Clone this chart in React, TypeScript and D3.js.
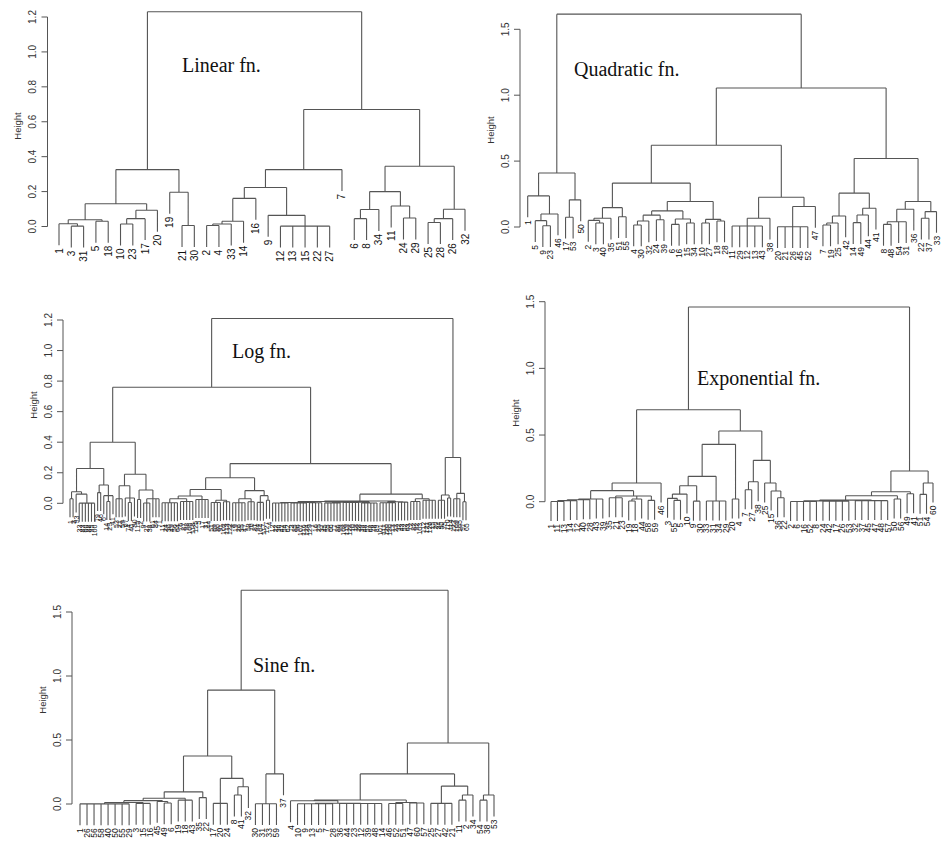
import React from "react";
import * as d3 from "d3";

// a node is [height, ...children]; a child is a leaf index (into the leaf order) or another node
type Node = (number | Node)[];

// ---- Linear fn. ----
const linearLeaves = [1, 3, 31, 5, 18, 10, 23, 17, 20, 19, 21, 30, 2, 4, 33, 14, 16, 9, 12, 13, 15, 22, 27, 7, 6, 8, 34, 11, 24, 29, 25, 28, 26, 32];
const linearTree: Node = [1.23,
  [0.326,
    [0.13, [0.039, [0.016, 0, [0.002, 1, 2]], [0.03, 3, 4]], [0.093, [0.045, [0.014, 5, 6], 7], 8]],
    [0.196, 9, [0.006, 10, 11]]],
  [0.67,
    [0.326, [0.223, [0.161, [0.03, [0.014, [0.006, 12, 13], 14], 15], 16], [0.064, 17, [0.002, 18, 19, 20, 21, 22]]], 23],
    [0.345, [0.2, [0.097, [0.045, 24, 25], 26], [0.117, 27, [0.049, 28, 29]]], [0.099, [0.045, [0.023, 30, 31], 32], 33]]]];
const linearTicks = [0, 0.2, 0.4, 0.6, 0.8, 1.0, 1.2];

// ---- Quadratic fn. ----
const quadLeaves = [1, 5, 9, 23, 46, 17, 53, 50, 2, 3, 40, 35, 51, 55, 4, 30, 32, 24, 39, 6, 16, 15, 34, 10, 27, 18, 28, 11, 29, 12, 13, 43, 38, 20, 21, 26, 45, 52, 47, 7, 19, 25, 42, 14, 49, 44, 41, 8, 48, 54, 31, 36, 22, 37, 33];
const quadTree: Node = [1.615,
  [0.41, [0.236, 0, [0.099, [0.048, 1, [0.01, 2, 3]], 4]], [0.206, [0.074, 5, 6], 7]],
  [1.055,
    [0.62,
      [0.333,
        [0.147, [0.066, [0.05, 8, [0.03, 9, 10]], 11], [0.078, 12, 13]],
        [0.193,
          [0.122, [0.09, [0.045, [0.015, 14, 15], 16], [0.055, 17, 18]], [0.061, [0.02, 19, 20], [0.03, 21, 22]]],
          [0.058, [0.03, 23, 24], [0.045, 25, 26]]]],
      [0.226, [0.066, [0.008, 27, 28, 29, 30, 31], 32], [0.155, [0.002, 33, 34, 35, 36, 37], 38]]],
    [0.52,
      [0.257, [0.084, [0.03, [0.015, 39, 40], 41], 42], [0.142, [0.091, [0.033, 43, 44], 45], 46]],
      [0.193, [0.135, [0.04, [0.02, 47, 48], 49, 50], 51], [0.117, [0.066, 52, 53], 54]]]]];
const quadTicks = [0, 0.5, 1.0, 1.5];

// ---- Log fn. ----
const logLeaves = [1, 3, 93, 33, 83, 60, 88, 95, 100, 79, 46, 6, 14, 29, 41, 53, 21, 59, 67, 74,
  40, 90, 115, 2, 9, 27, 38, 61, 84, 71, 11, 24, 36, 49, 56, 64, 76, 87, 98, 106,
  118, 125, 5, 17, 31, 44, 51, 69, 80, 91, 102, 113, 122, 8, 19, 26, 35, 47, 58, 70,
  81, 94, 104, 117, 127, 4, 12, 22, 30, 42, 54, 62, 73, 85, 96, 107, 116, 124, 129, 7,
  16, 25, 37, 45, 55, 66, 77, 86, 99, 108, 119, 128, 10, 18, 28, 39, 48, 57, 68, 78,
  89, 101, 111, 120, 130, 13, 23, 32, 43, 52, 63, 72, 82, 92, 103, 112, 121, 126, 15, 20,
  34, 50, 75, 110, 114, 123, 109, 105, 97, 65];
const logTree: Node = [1.21,
  [0.76,
    [0.4,
      [0.228,
        [0.076, [0.03, 0, 1], [0.06, 2, [0.001, 3, 4, 5, 6, 7, 8]]],
        [0.12, [0.07, 9, 10], [0.05, 11, [0.012, 12, 13], 14]]],
      [0.19,
        [0.115, [0.03, 15, 16, 17], [0.035, 18, [0.005, 19, 20], 21]],
        [0.087, [0.025, 22, 23], [0.03, [0.002, 24, 25, 26], 27, 28, 29]]]],
    [0.26,
      [0.167,
        [0.09,
          [0.048, [0.03, [0.004, 30, 31, 32, 33, 34, 35], [0.012, 36, 37, 38, 39, 40]], [0.025, 41, 42, 43, 44, 45]],
          [0.02, [0.005, 46, 47, 48, 49], [0.01, 50, 51, 52]]],
        [0.083,
          [0.03, [0.004, 53, 54, 55, 56, 57], [0.01, 58, 59, 60]],
          [0.05, [0.006, 61, 62, 63], [0.02, 64, 65]]]],
      [0.06,
        [0.015,
          [0.012,
            [0.005, [0.002, 66, 67, 68, 69, 70, 71], [0.003, 72, 73, 74, 75, 76, 77], [0.004, 78, 79, 80, 81, 82]],
            [0.008, [0.003, 83, 84, 85, 86, 87, 88], [0.005, 89, 90, 91, 92, 93, 94], [0.002, 95, 96, 97, 98, 99, 100]]],
          [0.01, [0.004, 101, 102, 103, 104, 105, 106], [0.008, 107, 108, 109, 110]]],
        [0.03, [0.012, 111, 112, 113, 114], [0.02, 115, 116, 117, 118, 119]]]]],
  [0.3,
    [0.054, [0.02, 120, 121, 122], [0.035, 123, 124]],
    [0.065, [0.03, 125, 126, 127], [0.01, 128, 129]]]];
const logTicks = [0, 0.2, 0.4, 0.6, 0.8, 1.0, 1.2];

// ---- Exponential fn. ----
const expLeaves = [1, 11, 13, 14, 12, 40, 28, 43, 39, 35, 21, 23, 19, 18, 44, 58, 59, 46,
  3, 55, 5, 10, 9, 30, 33, 31, 34, 29, 20, 4, 7, 27, 38, 25, 15, 36, 22,
  2, 6, 16, 52, 8, 24, 42, 17, 26, 53, 32, 37, 45, 47, 48, 57, 50, 56, 49, 41, 51, 54, 60];
const expTree: Node = [1.46,
  [0.69,
    [0.14,
      [0.083,
        [0.02, [0.015, [0.008, [0.002, 0, 1, 2], 3, 4], 5, 6], 7, 8],
        [0.043, [0.03, 9, 10, 11], [0.02, [0.005, 12, 13], 14], [0.01, 15, 16]]],
      17],
    [0.53,
      [0.43,
        [0.19,
          [0.12, [0.057, [0.025, 18, [0.01, 19, 20]], 21], [0.004, 22, 23]],
          [0.005, 24, 25, 26, 27]],
        [0.02, 28, 29]],
      [0.31,
        [0.15, [0.09, 30, 31], 32],
        [0.14, 33, [0.08, 34, [0.03, 35, 36]]]]]],
  [0.23,
    [0.075,
      [0.045,
        [0.012, [0.006, [0.002, 37, 38, 39, 40, 41], [0.004, 42, 43, 44, 45, 46]], [0.008, 47, 48, 49, 50, 51, 52]],
        [0.02, 53, 54]],
      [0.06, 55, 56]],
    [0.14, [0.055, 57, 58], 59]]];
const expTicks = [0, 0.5, 1.0, 1.5];

// ---- Sine fn. ----
const sineLeaves = [1, 26, 56, 58, 40, 50, 55, 29, 3, 15, 16, 45, 49, 6, 19, 18, 43, 35, 22,
  17, 20, 24, 8, 41, 32, 30, 31, 33, 59, 37, 4, 10, 9, 13, 5, 7, 28, 36, 44, 23, 12, 39, 48, 14,
  46, 52, 51, 47, 60, 57, 25, 27, 42, 21, 11, 2, 34, 54, 38, 53];
const sineTree: Node = [1.67,
  [0.89,
    [0.375,
      [0.095,
        [0.045,
          [0.026, [0.012, [0.001, 0, 1, 2, 3, 4, 5, 6, 7], [0.005, 8, 9, 10]], [0.02, 11, [0.008, 12, 13]]],
          [0.03, 14, 15, 16]],
        [0.05, 17, 18]],
      [0.2, [0.005, 19, 20, 21], [0.135, [0.07, 22, 23], 24]]],
    [0.235, [0.002, 25, 26, 27, 28], 29]],
  [0.476,
    [0.235,
      [0.031,
        [0.025, 30, [0.006, [0.002, 31, 32, 33, 34, 35, 36], [0.004, 37, 38, 39, 40, 41, 42, 43]]],
        [0.012, [0.004, 44, 45, 46], [0.008, 47, 48, 49]]],
      [0.14, [0.005, 50, 51, 52, 53], [0.07, [0.03, 54, 55], 56]]],
    [0.07, [0.03, 57, 58], 59]]];
const sineTicks = [0, 0.5, 1.0, 1.5];

const panels = [
  { title: "Linear fn.", leaves: linearLeaves, tree: linearTree, ticks: linearTicks,
    axisX: 47.5, xRange: [59, 465], yRange: [226.5, 17], titleX: 182, titleY: 72, leafFont: 10, ylabY: 126 },
  { title: "Quadratic fn.", leaves: quadLeaves, tree: quadTree, ticks: quadTicks,
    axisX: 520, xRange: [527.7, 936.5], yRange: [227, 29.3], titleX: 574, titleY: 76, leafFont: 8.5, ylabY: 130 },
  { title: "Log fn.", leaves: logLeaves, tree: logTree, ticks: logTicks,
    axisX: 63, xRange: [70, 466], yRange: [503.3, 320], titleX: 232, titleY: 358, leafFont: 7, ylabY: 405 },
  { title: "Exponential fn.", leaves: expLeaves, tree: expTree, ticks: expTicks,
    axisX: 545, xRange: [551, 933], yRange: [501.7, 301.7], titleX: 697, titleY: 385, leafFont: 8.5, ylabY: 413 },
  { title: "Sine fn.", leaves: sineLeaves, tree: sineTree, ticks: sineTicks,
    axisX: 72, xRange: [80, 494], yRange: [804, 612], titleX: 253, titleY: 672, leafFont: 8.5, ylabY: 700 },
];

const SANS = "'Liberation Sans', Arial, sans-serif";
const SERIF = "'Liberation Serif', 'Times New Roman', serif";
const fmt = d3.format(".1f");

function Dendrogram({ p }: { p: typeof panels[number] }) {
  const labels = p.leaves.map(String);
  const x = d3.scalePoint<string>().domain(labels).range(p.xRange as [number, number]);
  const y = d3.scaleLinear().domain([0, p.ticks[p.ticks.length - 1]]).range(p.yRange);
  const hang = 0.1 * (p.tree[0] as number);

  const path = d3.path();
  const leafPos: { x: number; y: number; label: string }[] = [];

  // R-style drawing: vertical from each child up to the merge height, one bar across
  const walk = (node: number | Node): { x: number; h: number | null; leaf?: string } => {
    if (typeof node === "number") return { x: x(labels[node])!, h: null, leaf: labels[node] };
    const [h, ...kids] = node as [number, ...(number | Node)[]];
    const pts = kids.map(walk);
    pts.forEach((c) => {
      const bottom = c.h === null ? h - hang : c.h;
      path.moveTo(c.x, y(bottom));
      path.lineTo(c.x, y(h));
      if (c.h === null) leafPos.push({ x: c.x, y: y(bottom), label: c.leaf! });
    });
    const first = pts[0].x, last = pts[pts.length - 1].x;
    path.moveTo(first, y(h));
    path.lineTo(last, y(h));
    return { x: (first + last) / 2, h };
  };
  walk(p.tree);

  const t0 = y(p.ticks[0]), t1 = y(p.ticks[p.ticks.length - 1]);

  return (
    <g>
      <path d={path.toString()} fill="none" stroke="#555" strokeWidth={1.1} />
      {leafPos.map((d, i) => (
        <text key={i} transform={`translate(${d.x},${d.y + 3}) rotate(-90)`} textAnchor="end"
          dominantBaseline="central" fontSize={p.leafFont} fontFamily={SANS} fill="#111">{d.label}</text>
      ))}
      {/* y axis */}
      <line x1={p.axisX} x2={p.axisX} y1={t0} y2={t1} stroke="#555" />
      {p.ticks.map((t) => (
        <g key={t}>
          <line x1={p.axisX - 6} x2={p.axisX} y1={y(t)} y2={y(t)} stroke="#555" />
          <text transform={`translate(${p.axisX - 15},${y(t)}) rotate(-90)`} textAnchor="middle"
            dominantBaseline="central" fontSize={10} fontFamily={SANS} fill="#333">{fmt(t)}</text>
        </g>
      ))}
      <text transform={`translate(${p.axisX - 30},${p.ylabY}) rotate(-90)`} textAnchor="middle"
        dominantBaseline="central" fontSize={9.5} fontFamily={SANS} fill="#333">Height</text>
      <text x={p.titleX} y={p.titleY} fontSize={20} fontFamily={SERIF} fill="#111">{p.title}</text>
    </g>
  );
}

export default function App() {
  return (
    <svg width={944} height={842} style={{ position: "absolute", left: 0, top: 0, background: "#fff" }}>
      <rect width={944} height={842} fill="#fff" />
      {panels.map((p) => <Dendrogram key={p.title} p={p} />)}
    </svg>
  );
}
